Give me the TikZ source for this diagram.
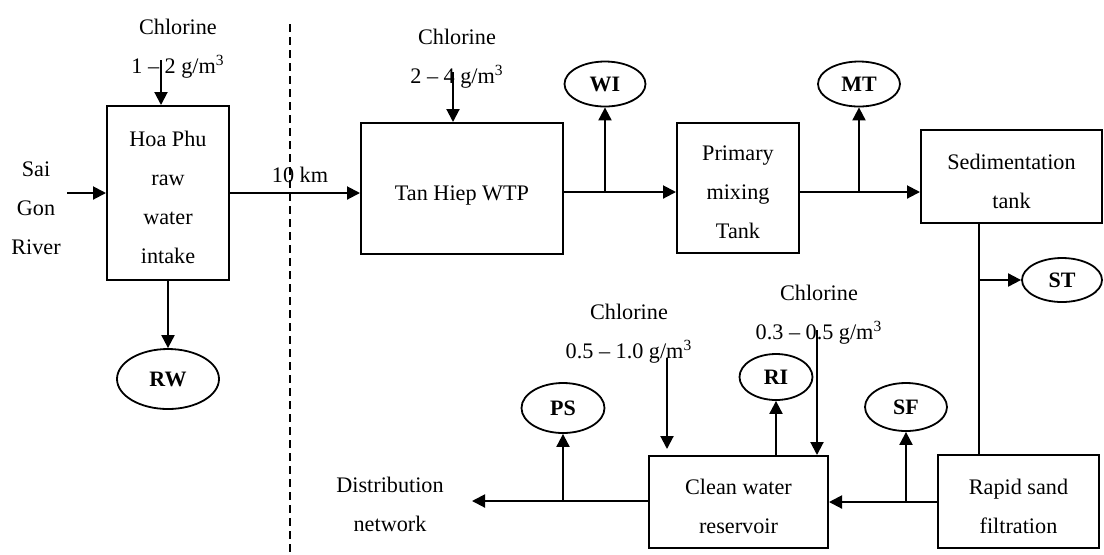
\documentclass[tikz,border=0pt]{standalone}
\usepackage{fontspec}
\setmainfont{Liberation Serif}
\usetikzlibrary{arrows.meta,shapes.geometric}
\begin{document}
\begin{tikzpicture}[x=0.5pt,y=-0.5pt,
  every node/.style={font=\fontsize{11.1}{19.5}\selectfont},
  box/.style={draw,line width=1pt,inner sep=0pt},
  boxtext/.style={align=center,inner sep=0pt,yshift=-2.3pt},
  tag/.style={draw,ellipse,line width=0.9pt,inner sep=0pt,font=\fontsize{11}{13}\selectfont\bfseries},
  lab/.style={align=center,inner sep=0pt},
  arr/.style={line width=1pt,-{Triangle[length=6.5pt,width=6.5pt]}},
  ln/.style={line width=1pt}]
\useasboundingbox (0,0) rectangle (1104,554);
% boxes
\node[box,minimum width=61pt,minimum height=87pt] (hoa) at (168,193) {};
\node[box,minimum width=101pt,minimum height=65.5pt] (tan) at (462,188.5) {};
\node[box,minimum width=61pt,minimum height=65pt] (prim) at (738,188) {};
\node[box,minimum width=90.5pt,minimum height=46.5pt] (sed) at (1011.5,176.5) {};
\node[box,minimum width=80.5pt,minimum height=46.5pt] (rapid) at (1018.5,501.5) {};
\node[box,minimum width=89.5pt,minimum height=46pt] (clean) at (738.5,502) {};
\node[boxtext] (hoat) at (hoa) {Hoa Phu\\raw\\water\\intake};
\node[boxtext,yshift=-1pt] (tant) at (tan) {Tan Hiep WTP};
\node[boxtext] (primt) at (prim) {Primary\\mixing\\Tank};
\node[boxtext] (sedt) at (sed) {Sedimentation\\tank};
\node[boxtext] (rapidt) at (rapid) {Rapid sand\\filtration};
\node[boxtext] (cleant) at (clean) {Clean water\\reservoir};
% sampling points
\node[tag,minimum width=40.5pt,minimum height=22.5pt] (wi) at (605,84) {WI};
\node[tag,minimum width=41pt,minimum height=22.5pt] (mt) at (859,84) {MT};
\node[tag,minimum width=40pt,minimum height=22pt] (st) at (1062,280) {ST};
\node[tag,minimum width=41pt,minimum height=24pt] (sf) at (906,407) {SF};
\node[tag,minimum width=36.5pt,minimum height=23pt] (ri) at (776,377) {RI};
\node[tag,minimum width=41.5pt,minimum height=25pt] (ps) at (563,408) {PS};
\node[tag,minimum width=51pt,minimum height=30pt] (rw) at (168,379) {RW};
% labels
\node[lab] (sg) at (36,208) {Sai\\Gon\\River};
\node[lab] (km) at (300,175) {10 km};
\node[lab] (ch1) at (178,48.5) {Chlorine\\1 – 2 g/m\textsuperscript{3}};
\node[lab] (ch2) at (457,58.5) {Chlorine\\2 – 4 g/m\textsuperscript{3}};
\node[lab] (ch3) at (629,334) {Chlorine\\0.5 – 1.0 g/m\textsuperscript{3}};
\node[lab] (ch4) at (819,315) {Chlorine\\0.3 – 0.5 g/m\textsuperscript{3}};
\node[lab] (dist) at (390,504) {Distribution\\network};
% coordinates
\coordinate (sgs) at (67,193);
\coordinate (c1s) at (161,60);
\coordinate (c2s) at (453,72);
\coordinate (c3s) at (667,358);
\coordinate (c4s) at (817,330);
\coordinate (jwi) at (605,192);
\coordinate (jmt) at (859,192);
\coordinate (jst) at (979,280);
\coordinate (jsf) at (906,502);
\coordinate (jps) at (563,501);
\coordinate (dend) at (472,501);
\coordinate (dtop) at (290,24);
\coordinate (dbot) at (290,554);
% dashed boundary
\draw[dashed,dash pattern=on 4pt off 2.5pt,line width=0.6pt] (dtop) -- (dbot);
% connectors
\draw[arr] (sgs) -- (sgs -| hoa.west);
\draw[arr] (hoa.east) -- (hoa.east -| tan.west);
\draw[arr] (c1s) -- (c1s |- hoa.north);
\draw[arr] (c2s) -- (c2s |- tan.north);
\draw[arr] (hoa.south) -- (rw.north);
\draw[arr] (tan.east |- jwi) -- (jwi -| prim.west);
\draw[arr] (jwi) -- (wi.south);
\draw[arr] (prim.east |- jmt) -- (jmt -| sed.west);
\draw[arr] (jmt) -- (mt.south);
\draw[ln] (jst |- sed.south) -- (jst |- rapid.north);
\draw[arr] (jst) -- (st.west);
\draw[arr] (rapid.west |- jsf) -- (jsf -| clean.east);
\draw[arr] (jsf) -- (sf.south);
\draw[arr] (ri.south |- clean.north) -- (ri.south);
\draw[arr] (c4s) -- (c4s |- clean.north);
\draw[arr,shorten >=3pt] (c3s) -- (c3s |- clean.north);
\draw[arr] (clean.west |- jps) -- (dend);
\draw[arr] (jps) -- (ps.south);
\end{tikzpicture}
\end{document}
